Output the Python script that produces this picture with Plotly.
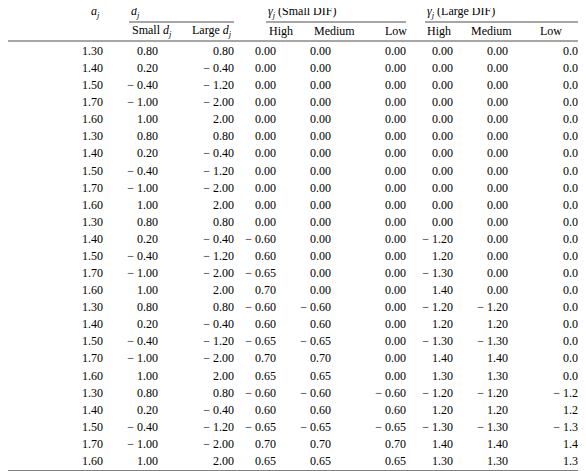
import plotly.graph_objects as go

items = list(range(1, 26))
a_j = [1.30, 1.40, 1.50, 1.70, 1.60] * 5
d_small = [0.80, 0.20, -0.40, -1.00, 1.00] * 5
d_large = [0.80, -0.40, -1.20, -2.00, 2.00] * 5
g_small_high = [0]*11 + [-0.60, 0.60, -0.65, 0.70, -0.60, 0.60, -0.65, 0.70, 0.65, -0.60, 0.60, -0.65, 0.70, 0.65]
g_small_med = [0]*15 + [-0.60, 0.60, -0.65, 0.70, 0.65, -0.60, 0.60, -0.65, 0.70, 0.65]
g_small_low = [0]*20 + [-0.60, 0.60, -0.65, 0.70, 0.65]
g_large_high = [0]*11 + [-1.20, 1.20, -1.30, 1.40, -1.20, 1.20, -1.30, 1.40, 1.30, -1.20, 1.20, -1.30, 1.40, 1.30]
g_large_med = [0]*15 + [-1.20, 1.20, -1.30, 1.40, 1.30, -1.20, 1.20, -1.30, 1.40, 1.30]
g_large_low = [0]*20 + [-1.20, 1.20, -1.30, 1.40, 1.30]

W, H = 586, 471
OX, OY = 8, 7
FONT = dict(family="Liberation Serif, Times New Roman, serif", size=12, color="black")
row_y0, row_dy = 51, 17.08
ys = [row_y0 + i*row_dy for i in range(len(items))]

def fmt(v):
    s = f"{abs(v):.2f}"
    return ("\u2212 " + s) if v < 0 else s

fig = go.Figure()
fig.add_trace(go.Scatter(x=[2]*len(items), y=ys, mode="text", text=[str(i) for i in items],
                         textposition="middle right", textfont=FONT, hoverinfo="skip", cliponaxis=False))
cols = [(a_j, 103), (d_small, 158), (d_large, 234), (g_small_high, 276), (g_small_med, 331),
        (g_small_low, 406), (g_large_high, 453), (g_large_med, 508), (g_large_low, 584)]
for vals, xr in cols:
    fig.add_trace(go.Scatter(x=[xr]*len(vals), y=ys, mode="text", text=[fmt(v) for v in vals],
                             textposition="middle left", textfont=FONT, hoverinfo="skip", cliponaxis=False))

headers = [("Item number", 2, 11), ("<i>a<sub>j</sub></i>", 89, 11), ("<i>d<sub>j</sub></i>", 129, 11),
           ("<i>γ<sub>j</sub></i> (Small DIF)", 266, 11), ("<i>γ<sub>j</sub></i> (Large DIF)", 425, 11),
           ("Small <i>d<sub>j</sub></i>", 130, 30), ("Large <i>d<sub>j</sub></i>", 190, 30),
           ("High", 267, 30), ("Medium", 312, 30), ("Low", 383, 30),
           ("High", 425, 30), ("Medium", 469, 30), ("Low", 538, 30)]
anns = [dict(text=t, x=x, y=y, xref="x", yref="y", xanchor="left", yanchor="middle",
             showarrow=False, font=FONT) for t, x, y in headers]

shapes = []
for y, x0, x1, w in [(1, 0, W, 1), (40, 0, W, 0.7), (470, 0, W, 1),
                     (21, 129, 234, 0.7), (21, 266, 406, 0.7), (21, 425, 584, 0.7)]:
    shapes.append(dict(type="line", x0=x0, x1=x1, y0=y, y1=y, xref="x", yref="y",
                       line=dict(color="black", width=w)))

fig.update_layout(width=W, height=H, margin=dict(l=0, r=0, t=0, b=0),
                  plot_bgcolor="white", paper_bgcolor="white", showlegend=False,
                  xaxis=dict(range=[OX, W + OX], visible=False, fixedrange=True),
                  yaxis=dict(range=[H + OY, OY], visible=False, fixedrange=True),
                  annotations=anns, shapes=shapes)
fig.write_html("out.html")
